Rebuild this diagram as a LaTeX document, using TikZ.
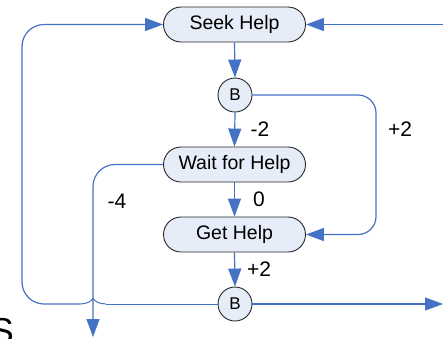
\documentclass[tikz,border=0pt]{standalone}
\usepackage{fontspec}
\setmainfont{Liberation Sans}
\usetikzlibrary{arrows.meta}
\definecolor{flowblue}{HTML}{4472C4}
\definecolor{boxfill}{HTML}{E6EDF8}
\definecolor{boxline}{HTML}{262626}
\tikzset{
  stage/.style={draw=boxline, line width=0.9pt, fill=boxfill, rounded corners=17.5pt,
    minimum width=142pt, minimum height=35pt, inner sep=0pt,
    font=\fontsize{19.5}{20}\selectfont},
  junction/.style={draw=boxline, line width=0.9pt, fill=boxfill, circle,
    minimum size=34pt, inner sep=0pt, font=\fontsize{17}{18}\selectfont},
  flow/.style={draw=flowblue, line width=1.2pt,
    -{Triangle[length=18pt, width=13pt]}},
  link/.style={draw=flowblue, line width=1pt},
  weight/.style={font=\fontsize{21}{22}\selectfont, inner sep=0pt}
}
\begin{document}
\begin{tikzpicture}[x=1pt, y=-1pt]
\useasboundingbox (0,0) rectangle (443,338);
\clip (0,0) rectangle (443,338);

% process steps and balancing junctions
\node[stage] (seek) at (234.5,24.5) {Seek Help};
\node[junction] (b1) at (235,95) {B};
\node[stage] (wait) at (234.5,164.5) {Wait for Help};
\node[stage] (get) at (234.5,234.5) {Get Help};
\node[junction] (b2) at (235,304) {B};

% free ends and routing points
\coordinate (inright) at (443,24.5);
\coordinate (outright) at (443,304);
\coordinate (outdown) at (93,337);
\coordinate (bendwait) at (93,164.5);
\coordinate (bypasstop) at (376,95);
\coordinate (bypassbot) at (376,234.5);
\coordinate (loopbot) at (22,304);
\coordinate (looptop) at (22,24.5);
\coordinate (hopright) at (106,304);
\coordinate (hopleft) at (80,304);

% main vertical chain
\draw[flow] (seek.south) -- (b1.north);
\draw[flow] (b1.south) -- (wait.north);
\draw[flow] (wait.south) -- (get.north);
\draw[flow] (get.south) -- (b2.north);

% incoming and outgoing flows
\draw[flow] (inright) -- (seek.east);
\draw[flow] (b2.east) -- (outright);

% bypass from the first junction straight to Get Help
\draw[flow, rounded corners=18pt] (b1.east) -- (bypasstop) -- (bypassbot) -- (get.east);

% giving up while waiting
\draw[flow, rounded corners=22pt] (wait.west) -- (bendwait) -- (outdown);

% loop back from the last junction to Seek Help, hopping over the crossing line
\draw[link] (b2.west) -- (hopright);
\draw[link] (hopright) .. controls (99,304) and (94.5,301) .. (93,298.5)
  .. controls (91.5,301) and (87,304) .. (hopleft);
\draw[flow, rounded corners=22pt] (hopleft) -- (loopbot) -- (looptop) -- (seek.west);

% flow weights
\node[weight] (wm2) at (260,129) {-2};
\node[weight] (wp2a) at (400,129) {+2};
\node[weight] (wz) at (259,199) {0};
\node[weight] (wm4) at (117,201) {-4};
\node[weight] (wp2b) at (259,269) {+2};

% partially visible caption letter
\node[anchor=north east, inner sep=0pt, font=\fontsize{36}{36}\selectfont] (cap) at (14,318) {S};
\end{tikzpicture}
\end{document}
